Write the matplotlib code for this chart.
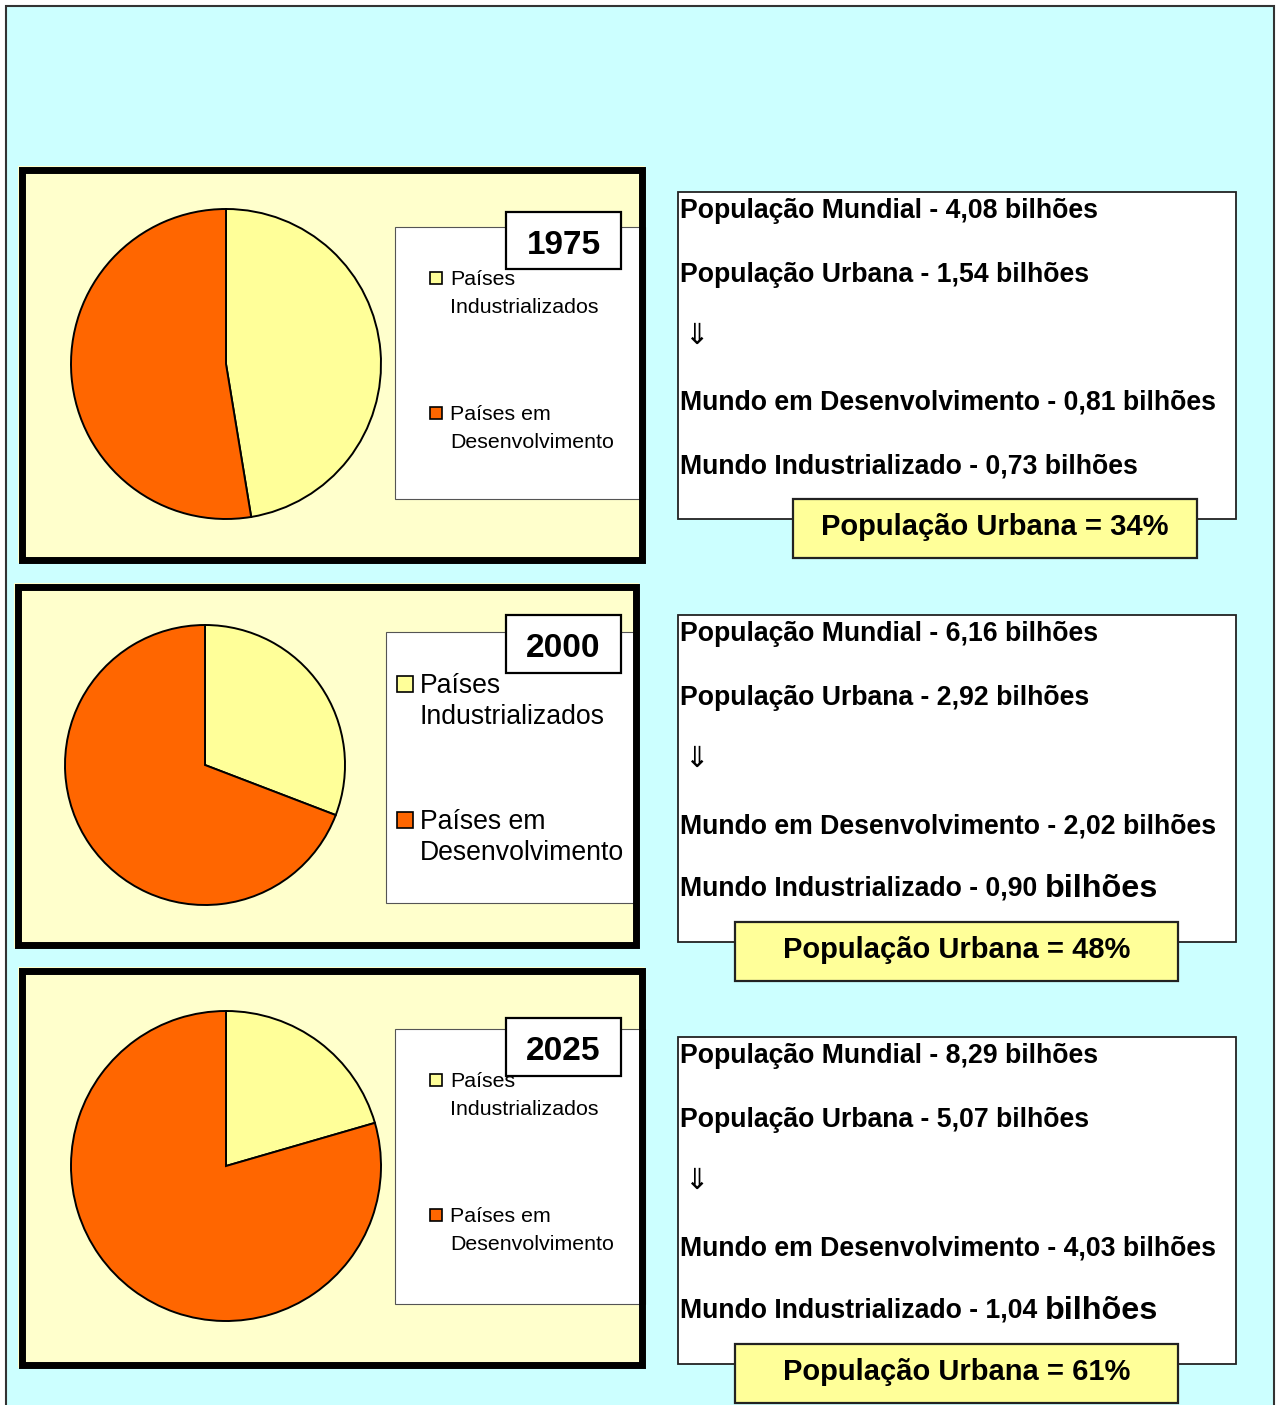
import matplotlib
matplotlib.use('Agg')
import matplotlib.pyplot as plt
from matplotlib.patches import Rectangle

plt.rcParams['font.family'] = ['Liberation Sans', 'DejaVu Sans']

# data
years = ['1975', '2000', '2025']
industrializados = [0.73, 0.90, 1.04]
desenvolvimento = [0.81, 2.02, 4.03]
mundial = [4.08, 6.16, 8.29]
urbana = [1.54, 2.92, 5.07]
pct_urbana = ['34%', '48%', '61%']
legend_labels = ['Países\nIndustrializados', 'Países em\nDesenvolvimento']

W, H = 1282, 1405
CYAN = '#CCFFFF'
PALE = '#FFFFCC'
YEL = '#FFFF99'
ORANGE = '#FF6600'

def num(v):
    return f'{v:.2f}'.replace('.', ',')

fig = plt.figure(figsize=(W/100, H/100), dpi=100)
fig.patch.set_facecolor('white')
ax = fig.add_axes([0, 0, 1, 1])
ax.set_xlim(0, W)
ax.set_ylim(H, 0)
ax.axis('off')

# background
ax.add_patch(Rectangle((6, 6), 1268, H+10, facecolor=CYAN, edgecolor='#333333', lw=1.5))

# left panels: (outer box, pie center, radius, legend box, year box, legend style)
panels = [
    dict(box=(18, 166, 627, 397), pie=(226, 364, 155), leg=(395, 227, 250, 272),
         yb=(506, 212, 115, 57), sq=(430, 274, 12), tx=450, ly=[285, 420], fs=15.4, gap=28),
    dict(box=(14, 583, 625, 365), pie=(205, 765, 140), leg=(386, 632, 250, 271),
         yb=(506, 615, 115, 58), sq=(397, 677, 16), tx=420, ly=[693, 829], fs=19.2, gap=31),
    dict(box=(18, 967, 627, 401), pie=(226, 1166, 155), leg=(395, 1029, 250, 275),
         yb=(506, 1018, 115, 58), sq=(430, 1076, 12), tx=450, ly=[1087, 1222], fs=15.4, gap=28),
]

for i, p in enumerate(panels):
    x, y, w, h = p['box']
    ax.add_patch(Rectangle((x, y), w, h, facecolor=PALE, edgecolor='none'))
    lx, ly0, lw_, lh = p['leg']
    ax.add_patch(Rectangle((lx, ly0), lw_, lh, facecolor='white', edgecolor='#555555', lw=0.8))
    # legend entries
    s = p['sq']
    for k, (lab, col) in enumerate(zip(legend_labels, [YEL, ORANGE])):
        base = p['ly'][k]
        ax.add_patch(Rectangle((s[0], base - s[2] - 1), s[2], s[2], facecolor=col,
                               edgecolor='black', lw=1.2))
        l1, l2 = lab.split('\n')
        ax.text(p['tx'], base, l1, fontsize=p['fs'], va='baseline', ha='left')
        ax.text(p['tx'], base + p['gap'], l2, fontsize=p['fs'], va='baseline', ha='left')
    # year box
    bx, by, bw, bh = p['yb']
    ax.add_patch(Rectangle((bx, by), bw, bh, facecolor='white', edgecolor='black', lw=1.6))
    ax.text(bx + bw/2, by + 42, years[i], fontsize=24, fontweight='bold',
            ha='center', va='baseline')
    # thick frame
    ax.add_patch(Rectangle((x + 3.5, y + 3.5), w - 7, h - 7, facecolor='none',
                           edgecolor='black', lw=5))
    # pie
    cx, cy, r = p['pie']
    pad = 1.02
    rr = r * pad
    pax = fig.add_axes([(cx - rr)/W, 1 - (cy + rr)/H, 2*rr/W, 2*rr/H])
    pax.pie([industrializados[i], desenvolvimento[i]], colors=[YEL, ORANGE],
            startangle=90, counterclock=False,
            wedgeprops=dict(edgecolor='black', linewidth=1.4, clip_on=False))
    pax.set_xlim(-pad, pad)
    pax.set_ylim(-pad, pad)
    pax.axis('off')

# right text boxes
tops = [192, 615, 1037]
ybox = [(793, 404), (735, 443), (735, 443)]
for i, top in enumerate(tops):
    ax.add_patch(Rectangle((678, top), 558, 327, facecolor='white', edgecolor='#222222', lw=1.3))
    fsb = 19.2
    ax.text(680, top + 26, f'População Mundial - {num(mundial[i])} bilhões',
            fontsize=fsb, fontweight='bold', va='baseline')
    ax.text(680, top + 90, f'População Urbana - {num(urbana[i])} bilhões',
            fontsize=fsb, fontweight='bold', va='baseline')
    ax.text(684, top + 144, '⇓', fontsize=21, va='center', family=['DejaVu Sans'])
    ax.text(680, top + 218, f'Mundo em Desenvolvimento - {num(desenvolvimento[i])} bilhões',
            fontsize=fsb, fontweight='bold', va='baseline')
    if i == 0:
        ax.text(680, top + 281, f'Mundo Industrializado - {num(industrializados[i])} bilhões',
                fontsize=fsb, fontweight='bold', va='baseline')
    else:
        t = ax.text(680, top + 281, f'Mundo Industrializado - {num(industrializados[i])} ',
                    fontsize=fsb, fontweight='bold', va='baseline')
        ax.annotate('bilhões', xy=(1, 0), xycoords=t, xytext=(0, -1.2),
                    textcoords='offset points', fontsize=23.3, fontweight='bold',
                    va='bottom', ha='left')
    yx, yw = ybox[i]
    ax.add_patch(Rectangle((yx, top + 307), yw, 59, facecolor=YEL, edgecolor='#222222', lw=1.6))
    ax.text(yx + yw/2, top + 343, f'População Urbana = {pct_urbana[i]}',
            fontsize=21, fontweight='bold', ha='center', va='baseline')

fig.savefig('out.png', dpi=100)
